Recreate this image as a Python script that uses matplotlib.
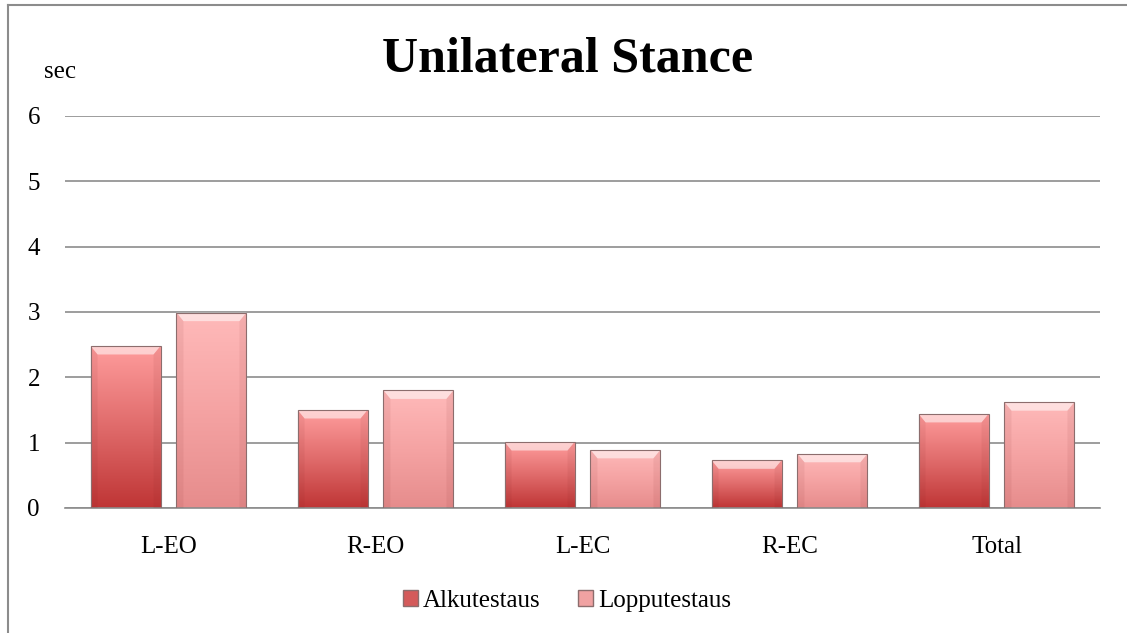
import numpy as np
import matplotlib.pyplot as plt
from matplotlib.colors import LinearSegmentedColormap
from matplotlib.patches import Patch, Polygon
from matplotlib.lines import Line2D

plt.rcParams['font.family'] = ['Liberation Serif', 'DejaVu Serif']

categories = ["L-EO", "R-EO", "L-EC", "R-EC", "Total"]
alkutestaus = [2.48, 1.50, 1.01, 0.73, 1.44]
lopputestaus = [2.99, 1.80, 0.89, 0.83, 1.62]
series_names = ["Alkutestaus", "Lopputestaus"]
yticks = [0, 1, 2, 3, 4, 5, 6]

cmap_alk = LinearSegmentedColormap.from_list("alk", ["#bf3535", "#e06b6b", "#ff9d9d"])
cmap_lop = LinearSegmentedColormap.from_list("lop", ["#e68c8c", "#f5a3a3", "#ffbaba"])

fig = plt.figure(figsize=(11.27, 6.33), dpi=100)
ax = fig.add_axes([65 / 1127, 125 / 633, 1035 / 1127, 392 / 633])

x = np.arange(len(categories))
width = 0.338
offset = 0.2075

grad = np.linspace(0, 1, 256).reshape(-1, 1)


def gradient_bars(bars, cmap):
    for rect in bars:
        x0, y0 = rect.get_x(), rect.get_y()
        w, h = rect.get_width(), rect.get_height()
        rect.set_facecolor("none")
        rect.set_edgecolor("#8c6d6d")
        rect.set_linewidth(0.8)
        img = ax.imshow(grad, cmap=cmap, origin="lower", aspect="auto",
                        extent=[x0, x0 + w, y0, y0 + h], zorder=2,
                        interpolation="bicubic")
        img.set_clip_path(rect)
        # bevel highlight along the top edge
        bh = 0.13
        bw = w * 0.1
        top = Polygon([[x0, y0 + h], [x0 + w, y0 + h],
                       [x0 + w - bw, y0 + h - bh], [x0 + bw, y0 + h - bh]],
                      closed=True, facecolor="white", alpha=0.55,
                      edgecolor="none", zorder=3)
        ax.add_patch(top)
        # darker side edges
        for xs in ([x0, x0 + bw], [x0 + w, x0 + w - bw]):
            side = Polygon([[xs[0], y0], [xs[0], y0 + h],
                            [xs[1], y0 + h - bh], [xs[1], y0]],
                           closed=True, facecolor="#7a2020", alpha=0.08,
                           edgecolor="none", zorder=3)
            ax.add_patch(side)


b1 = ax.bar(x - offset, alkutestaus, width, zorder=4)
b2 = ax.bar(x + offset, lopputestaus, width, zorder=4)
gradient_bars(b1, cmap_alk)
gradient_bars(b2, cmap_lop)

ax.set_xlim(-0.5, len(categories) - 0.5)
ax.set_ylim(0, 6)
ax.set_yticks(yticks)
ax.set_xticks(x)
ax.set_xticklabels(categories)
ax.tick_params(axis="both", length=0, labelsize=18)
ax.tick_params(axis="y", pad=18)
ax.tick_params(axis="x", pad=20)
ax.yaxis.grid(True, color="#8c8c8c", linewidth=1.2)
ax.set_axisbelow(True)
for side in ["left", "right", "top"]:
    ax.spines[side].set_visible(False)
ax.spines["bottom"].set_color("#8c8c8c")
ax.spines["bottom"].set_linewidth(1.2)

fig.text(44 / 1127, 1 - 78 / 633, "sec", fontsize=18, va="baseline")
fig.text(568 / 1127, 1 - 72 / 633, "Unilateral Stance", fontsize=36,
         fontweight="bold", ha="center", va="baseline")

handles = [Patch(facecolor="#d45a5a", edgecolor="#8c6d6d"),
           Patch(facecolor="#f0a2a2", edgecolor="#8c6d6d")]
fig.legend(handles, series_names, loc="center", bbox_to_anchor=(567 / 1127, 1 - 601 / 633),
           ncol=2, frameon=False, fontsize=18, handlelength=0.6, handleheight=0.6,
           handletextpad=0.2, columnspacing=1.5)

# chart area border
fig.add_artist(Line2D([8 / 1127, 8 / 1127], [0, 1 - 5 / 633], color="#8c8c8c", linewidth=1.5))
fig.add_artist(Line2D([8 / 1127, 1], [1 - 5 / 633, 1 - 5 / 633], color="#8c8c8c", linewidth=1.5))

fig.savefig("out.png", dpi=100)
